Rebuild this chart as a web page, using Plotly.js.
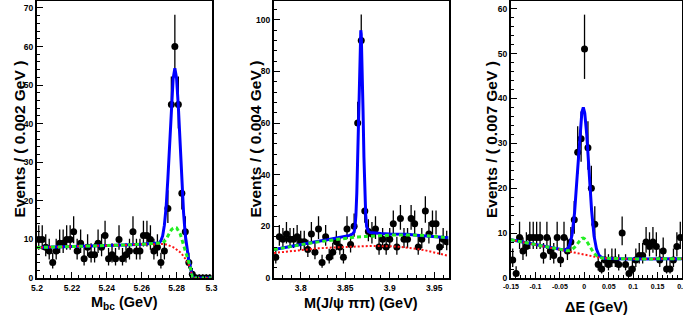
<!DOCTYPE html>
<html><head><meta charset="utf-8">
<script src="https://cdn.plot.ly/plotly-3.0.1.min.js"></script>
<style>html,body{margin:0;padding:0;background:#fff;overflow:hidden}#chart{width:683px;height:322px}</style>
</head><body><div id="chart"></div>
<script>
// ---------- Panel 1 : M_bc ----------
const mbcBinLo = 5.2, mbcBinWidth = 0.002;
const mbcCounts = [10,10,8,7,4,7,9,9,10,10,12,7,9,5,8,6,6,9,8,11,5,6,5,10,5,6,7,12,7,7,11,11,10,7,8,4,7,18,45,60,45,22,12,4,1,0,0,0,0,0];
const mbcCurveX = [5.200,5.210,5.220,5.230,5.240,5.250,5.260,5.266,5.270,5.271,5.272,5.273,5.274,5.275,5.276,5.277,5.278,5.279,5.280,5.281,5.282,5.283,5.284,5.285,5.286,5.287,5.288,5.289,5.300];
const mbcTotal   = [7.9,8.0,8.1,8.25,8.4,8.55,8.75,8.85,9.1,9.65,10.9,13.7,18.4,25.8,35.1,44.5,51.6,54.4,51.7,44.4,34.8,24.9,16.9,11.0,7.0,4.5,2.8,0,0];
const mbcBkgPeak = [7.9,8.0,8.1,8.25,8.4,8.55,8.75,8.85,8.9,8.95,9.1,9.5,10.0,10.9,11.8,12.5,12.9,13.1,13.0,12.4,11.5,10.0,8.5,6.8,5.2,3.8,2.6,0,0];
const mbcBkg     = [7.9,8.0,8.1,8.25,8.4,8.55,8.75,8.85,8.9,8.9,8.85,8.8,8.7,8.55,8.4,8.2,8.0,7.7,7.4,7.05,6.7,6.2,5.7,5.0,4.3,3.5,2.5,0,0];
const mbcTickVals = [5.2,5.22,5.24,5.26,5.28,5.3];
const mbcTickText = ["5.2","5.22","5.24","5.26","5.28","5.3"];
const mbcYTicks = [0,10,20,30,40,50,60,70];

// ---------- Panel 2 : M(J/psi pi pi) ----------
const mjppBinLo = 3.77, mjppBinWidth = 0.004;
const mjppCounts = [8,16,15,17,15,15,16,14,14,11,17,10,19,6,16,8,10,14,12,8,19,13,20,60,92,26,18,17,19,12,15,12,15,21,12,23,15,15,23,21,12,15,26,17,21,21,12,15,14];
const mjppCurveX = [3.77,3.78,3.79,3.80,3.81,3.82,3.83,3.84,3.85,3.855,3.858,3.860,3.861,3.862,3.863,3.864,3.865,3.866,3.867,3.8675,3.868,3.869,3.870,3.871,3.872,3.873,3.874,3.876,3.878,3.88,3.885,3.89,3.90,3.91,3.92,3.93,3.94,3.95,3.966];
const mjppTotal   = [11.0,11.7,12.3,13.0,13.6,14.2,14.8,15.4,16.0,16.5,17.0,17.8,19.8,24.3,32.9,46.9,65,83,94.5,96,94.5,83,65,47,33,24.5,20.0,18.0,17.6,17.5,17.3,17.2,17.0,17.0,16.9,16.6,16.4,16.1,15.6];
const mjppBkgAll  = [11.0,11.7,12.3,12.9,13.5,14.0,14.5,15.0,15.4,15.6,15.7,15.8,15.85,15.85,15.9,15.9,15.95,15.95,16.0,16.0,16.0,16.0,16.05,16.05,16.1,16.1,16.1,16.15,16.2,16.3,16.4,16.5,16.6,16.7,16.7,16.6,16.4,16.1,15.6];
const mjppBkg     = [9.7,10.1,10.5,10.9,11.2,11.5,11.7,11.9,12.1,12.2,12.25,12.3,12.3,12.3,12.3,12.35,12.35,12.35,12.35,12.35,12.35,12.4,12.4,12.4,12.4,12.4,12.4,12.4,12.4,12.4,12.4,12.4,12.3,12.1,11.8,11.3,10.7,9.9,8.6];
const mjppTickVals = [3.8,3.85,3.9,3.95];
const mjppTickText = ["3.8","3.85","3.9","3.95"];
const mjppYTicks = [0,20,40,60,80,100];

// ---------- Panel 3 : Delta E ----------
const deBinLo = -0.15, deBinWidth = 0.007;
const deCounts = [4,1,9,6,7,9,9,9,9,5,9,6,5,9,4,9,6,8,13,28,31,51,29,20,12,3,2,4,3,4,4,3,10,3,1,2,4,5,5,8,7,8,7,4,6,2,2,4,7,9];
const deCurveX = [-0.15,-0.13,-0.11,-0.09,-0.07,-0.055,-0.045,-0.04,-0.035,-0.03,-0.025,-0.02,-0.015,-0.01,-0.005,-0.002,0.001,0.005,0.01,0.015,0.02,0.025,0.03,0.035,0.04,0.05,0.07,0.1,0.13,0.16,0.2];
const deTotal   = [8.5,8.05,7.6,7.2,6.75,6.45,6.2,6.19,6.4,7.28,9.63,14.42,22.05,30.63,36.84,38.0,36.69,31.98,23.28,15.02,9.37,6.42,5.07,4.58,4.42,4.35,4.3,4.25,4.25,4.25,4.3];
const deBkgPeak = [8.5,8.05,7.6,7.2,6.75,6.45,6.2,6.12,6.08,6.14,6.37,6.82,7.55,8.33,8.84,8.9,8.69,8.18,7.18,6.22,5.47,4.99,4.65,4.48,4.4,4.35,4.3,4.25,4.25,4.25,4.3];
const deBkg     = [8.5,8.05,7.6,7.2,6.75,6.45,6.2,6.1,6.0,5.9,5.8,5.65,5.55,5.45,5.35,5.3,5.2,5.15,5.0,4.9,4.8,4.7,4.55,4.45,4.4,4.35,4.3,4.25,4.25,4.25,4.3];
const deTickVals = [-0.15,-0.1,-0.05,0,0.05,0.1,0.15,0.2];
const deTickText = ["-0.15","-0.1","-0.05","0","0.05","0.1","0.15","0.2"];
const deYTicks = [0,10,20,30,40,50,60];

// ---------- helpers ----------
function binCenters(lo, w, n){ const c=[]; for(let i=0;i<n;i++) c.push(lo+(i+0.5)*w); return c; }
const errUp = n => Math.sqrt(n+0.25)+0.5;
const errDn = n => n>0 ? Math.sqrt(n+0.25)-0.5 : 0;

const FONT = 'Liberation Sans, Arial, Helvetica, sans-serif';
const BLUE = '#0000ff', GREEN = '#22ee22', RED = '#ff1111';

function panelTraces(xa, ya, lo, w, counts, cx, tot, bkp, bkg){
  return [
    {x: binCenters(lo,w,counts.length), y: counts, xaxis: xa, yaxis: ya, type:'scatter', mode:'markers',
     marker:{color:'black', size:7},
     error_y:{type:'data', symmetric:false, array: counts.map(errUp), arrayminus: counts.map(errDn), color:'black', thickness:1.3, width:0}},
    {x: cx, y: tot, xaxis: xa, yaxis: ya, type:'scatter', mode:'lines', line:{color:BLUE, width:3}},
    {x: cx, y: bkg, xaxis: xa, yaxis: ya, type:'scatter', mode:'lines', line:{color:RED, width:2, dash:'2px,2px'}},
    {x: cx, y: bkp, xaxis: xa, yaxis: ya, type:'scatter', mode:'lines', line:{color:GREEN, width:3, dash:'4px,3px'}}
  ];
}

const data = [
  ...panelTraces('x','y', mbcBinLo, mbcBinWidth, mbcCounts, mbcCurveX, mbcTotal, mbcBkgPeak, mbcBkg),
  ...panelTraces('x2','y2', mjppBinLo, mjppBinWidth, mjppCounts, mjppCurveX, mjppTotal, mjppBkgAll, mjppBkg),
  ...panelTraces('x3','y3', deBinLo, deBinWidth, deCounts, deCurveX, deTotal, deBkgPeak, deBkg)
];

function axisBase(fs){
  return {showline:true, linecolor:'black', linewidth:2, mirror:true, ticks:'inside', ticklen:6, tickwidth:1, tickcolor:'black',
          showgrid:false, zeroline:false, fixedrange:true, ticklabeloverflow:'allow',
          tickfont:{family:FONT, size:fs, weight:'bold', color:'black'}};
}
function xAxis(dom, range, tv, tt, minorD, fs, anchor){
  return Object.assign(axisBase(fs), {domain:dom, range:range, anchor:anchor, tickmode:'array', tickvals:tv, ticktext:tt, ticklabelstandoff:1,
     minor:{ticks:'inside', ticklen:3, tickwidth:1, tickcolor:'black', tick0:0, dtick:minorD, showgrid:false}});
}
function yAxis(range, tv, minorD, fs, anchor){
  return Object.assign(axisBase(fs), {domain:[0,1], range:range, anchor:anchor, tickmode:'array', tickvals:tv, ticktext:tv.map(String), ticklabelstandoff:0,
     minor:{ticks:'inside', ticklen:3, tickwidth:1, tickcolor:'black', tick0:0, dtick:minorD, showgrid:false}});
}

const W = 683;
const titleFont = {family:FONT, size:15, weight:'bold', color:'black'};
function ann(text, px, py, angle, size){
  return {text:text, xref:'paper', yref:'paper', x:px/W, y:(278-py)/277, xanchor:'center', yanchor:'middle',
          showarrow:false, textangle:angle, font:Object.assign({}, titleFont, {size:size})};
}

const layout = {
  width:683, height:322, margin:{l:0, r:0, t:1, b:44}, showlegend:false,
  paper_bgcolor:'white', plot_bgcolor:'white',
  xaxis:  xAxis([37/W, 211.5/W], [5.2,5.3], mbcTickVals, mbcTickText, 0.004, 8.5, 'y'),
  yaxis:  yAxis([0,71.8], mbcYTicks, 2, 8.5, 'x'),
  xaxis2: xAxis([274/W, 448.5/W], [3.77,3.966], mjppTickVals, mjppTickText, 0.01, 8.5, 'y2'),
  yaxis2: yAxis([0,107.3], mjppYTicks, 4, 8.5, 'x2'),
  xaxis3: xAxis([511/W, 682/W], [-0.15,0.2], deTickVals, deTickText, 0.01, 7, 'y3'),
  yaxis3: yAxis([0,61.7], deYTicks, 2, 8.5, 'x3'),
  annotations:[
    ann('Events / ( 0.002 GeV )', 19, 139.5, -90, 15.5),
    ann('Events / ( 0.004 GeV )', 255, 139.5, -90, 15.5),
    ann('Events / ( 0.007 GeV )', 491.5, 139.5, -90, 15.5),
    ann('M<sub>bc</sub> (GeV)', 124, 303, 0, 14.5),
    ann('M(J/ψ ππ) (GeV)', 361, 303, 0, 14.5),
    ann('ΔE (GeV)', 596.5, 307, 0, 14.5)
  ]
};

Plotly.newPlot('chart', data, layout, {staticPlot:true, displayModeBar:false});
</script>
</body></html>
